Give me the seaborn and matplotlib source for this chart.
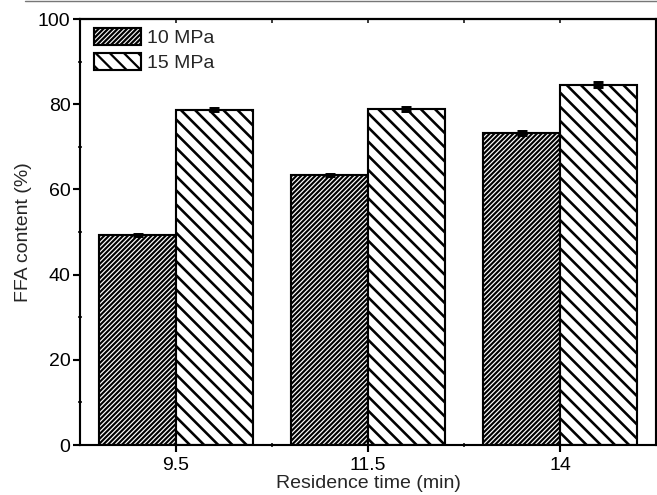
import pandas as pd
import matplotlib.pyplot as plt
from matplotlib.lines import Line2D
import seaborn as sns

# Values
times = ['9.5', '11.5', '14']
ffa_10 = [49.3, 63.4, 73.2]
ffa_15 = [78.7, 78.9, 84.6]
err_10 = [0.3, 0.3, 0.4]
err_15 = [0.4, 0.4, 0.5]
pressures = ['10 MPa', '15 MPa']

df = pd.DataFrame({
    'time': times * 2,
    'ffa': ffa_10 + ffa_15,
    'err': err_10 + err_15,
    'pressure': [pressures[0]] * 3 + [pressures[1]] * 3,
})

sns.set_style('ticks')
plt.rcParams['font.family'] = ['Liberation Sans', 'DejaVu Sans']
plt.rcParams['hatch.linewidth'] = 1.9
plt.rcParams['hatch.color'] = 'black'

fs = 16.5
fig = plt.figure(figsize=(657 / 85, 495 / 85), dpi=85)
ax = fig.add_axes([80 / 657, 1 - 445 / 495, 576 / 657, 426 / 495])

sns.barplot(data=df, x='time', y='ffa', hue='pressure', order=times,
            hue_order=pressures, palette=['white', 'white'],
            edgecolor='black', linewidth=1.8, errorbar=None, legend=False,
            width=0.8, ax=ax)

hatches = ['//////', '\\\\']
hatch_lw = [1.8, 2.2]
for cont, h, hw, errs in zip(ax.containers, hatches, hatch_lw, [err_10, err_15]):
    for bar in cont:
        bar.set_hatch(h)
        if hasattr(bar, 'set_hatch_linewidth'):
            bar.set_hatch_linewidth(hw)
    xs = [b.get_x() + b.get_width() / 2 for b in cont]
    ys = [b.get_height() for b in cont]
    ax.errorbar(xs, ys, yerr=errs, fmt='none', ecolor='black',
                elinewidth=2, capsize=4.5, capthick=2.5, zorder=5)

ax.set_xlim(-0.5, 2.5)
ax.set_ylim(0, 100)
ax.set_yticks([0, 20, 40, 60, 80, 100])
ax.set_yticks([10, 30, 50, 70, 90], minor=True)
ax.set_xticks([0.5, 1.5], minor=True)

ax.set_xlabel('Residence time (min)', fontsize=fs, labelpad=1)
ax.set_ylabel('FFA content (%)', fontsize=fs, labelpad=5)

for s in ax.spines.values():
    s.set_visible(True)
    s.set_linewidth(1.8)
    s.set_color('black')

ax.tick_params(axis='both', which='major', direction='out', length=6,
               width=1.8, labelsize=fs, colors='black', pad=2)
ax.tick_params(axis='x', which='major', pad=4)
ax.tick_params(axis='both', which='minor', direction='inout', length=3,
               width=1.5)

top = ax.secondary_xaxis('top')
top.set_xticks([0, 1, 2])
top.set_xticks([0.5, 1.5], minor=True)
top.tick_params(which='both', direction='in', length=3, width=1.5,
                labeltop=False)
top.spines['top'].set_linewidth(1.8)

leg = ax.legend(ax.containers, pressures, loc='upper left',
                bbox_to_anchor=(14 / 576, 1 - 9 / 426), frameon=False,
                fontsize=fs, handlelength=2.4, handleheight=0.95,
                handletextpad=0.3, labelspacing=0.3, borderpad=0,
                borderaxespad=0)

# thin gray rule at the top of the page
fig.add_artist(Line2D([25 / 657, 1], [0.997, 0.997], color='#777777',
                      linewidth=1.2, transform=fig.transFigure))

fig.savefig('out.png', dpi=85)
